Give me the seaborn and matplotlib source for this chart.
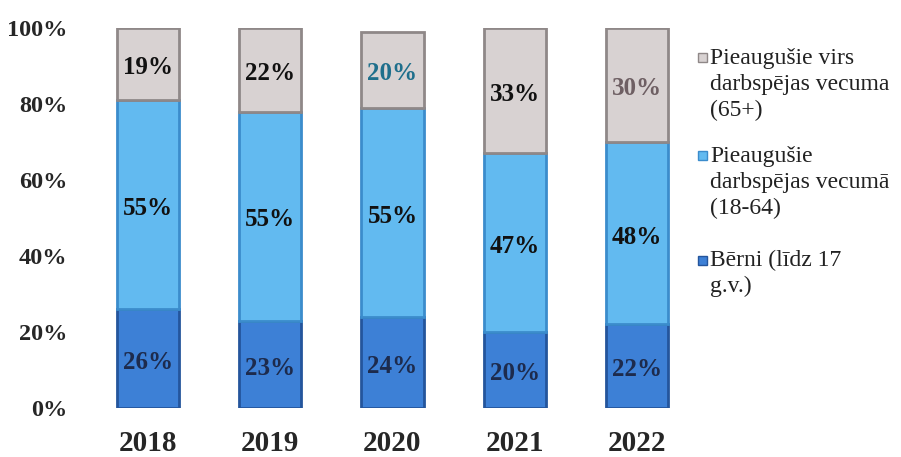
import numpy as np
import pandas as pd
import matplotlib
matplotlib.use("Agg")
import matplotlib.pyplot as plt
from matplotlib.patches import Rectangle
import seaborn as sns

# data
years = ["2018", "2019", "2020", "2021", "2022"]
children = [26, 23, 24, 20, 22]
working_age = [55, 55, 55, 47, 48]
seniors = [19, 22, 20, 33, 30]

series_names = [
    "Bērni (līdz 17\ng.v.)",
    "Pieaugušie\ndarbspējas vecumā\n(18-64)",
    "Pieaugušie virs\ndarbspējas vecuma\n(65+)",
]
face_colors = ["#3d80d6", "#62baf0", "#d8d2d2"]
edge_colors = ["#24559c", "#3b8ccc", "#8f8888"]
label_colors = [
    ["#1d2b4d", "#1d2b4d", "#1d2b4d", "#1d2b4d", "#1d2b4d"],
    ["#111111", "#111111", "#111111", "#111111", "#111111"],
    ["#111111", "#111111", "#1f6f8c", "#111111", "#6e5f63"],
]

df = pd.DataFrame({
    "year": years,
    "children": children,
    "working": working_age,
    "seniors": seniors,
})
cols = ["children", "working", "seniors"]

sns.set_style("white")
plt.rcParams["font.family"] = ["Liberation Serif", "DejaVu Serif"]

fig = plt.figure(figsize=(9.01, 4.57), dpi=100)
ax = fig.add_axes([87 / 901, 49 / 457, 611 / 901, 380 / 457])

bottom = np.zeros(len(df))
for i, c in enumerate(cols):
    sns.barplot(data=df, x="year", y=c, bottom=bottom, width=0.51,
                color=face_colors[i], edgecolor=edge_colors[i],
                linewidth=2, saturation=1, ax=ax)
    vals = df[c].to_numpy()
    for j, v in enumerate(vals):
        ax.text(j, bottom[j] + v / 2 - 1, f"{v}%", ha="center", va="center",
                fontsize=18, fontweight="bold", color=label_colors[i][j])
    bottom = bottom + vals

ax.set_ylim(0, 100)
ax.set_xlim(-0.5, 4.5)
ax.set_yticks([0, 20, 40, 60, 80, 100])
ax.set_yticklabels([f"{t}%" for t in [0, 20, 40, 60, 80, 100]],
                    fontsize=17.5, fontweight="bold")
ax.tick_params(axis="x", labelsize=21, pad=16, length=0)
ax.tick_params(axis="y", pad=14, length=0)
for lbl in ax.get_xticklabels():
    lbl.set_fontweight("bold")
ax.set_xlabel("")
ax.set_ylabel("")
sns.despine(ax=ax, left=True, bottom=True)

# legend: marker beside the first line of each entry, like the original
legend_tops = [58, 156, 260]
for k, i in enumerate([2, 1, 0]):
    yc = 1 - legend_tops[k] / 457
    fig.patches.append(Rectangle((698 / 901, yc - 4.5 / 457), 9 / 901, 9 / 457,
                                 transform=fig.transFigure,
                                 facecolor=face_colors[i],
                                 edgecolor=edge_colors[i], linewidth=1))
    fig.text(710 / 901, yc + 10 / 457, series_names[i], ha="left", va="top",
             fontsize=17, linespacing=1.3, color="#222222")

fig.savefig("out.png", dpi=100)
